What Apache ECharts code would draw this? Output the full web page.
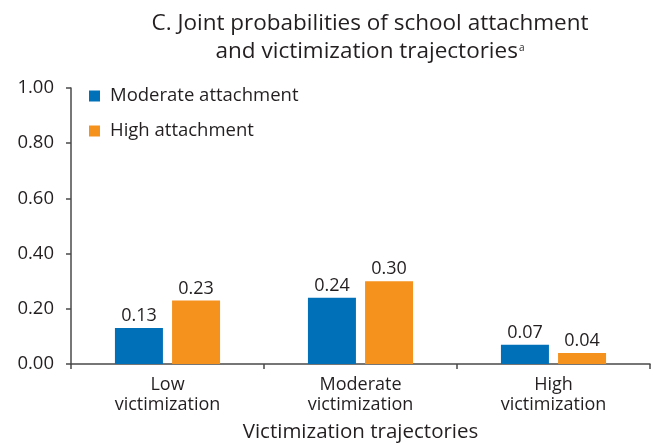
<!DOCTYPE html>
<html>
<head>
<meta charset="utf-8">
<script src="https://cdn.jsdelivr.net/npm/echarts@6/dist/echarts.min.js"></script>
<style>
  html, body { margin: 0; padding: 0; background: #fff; }
  #chart { width: 660px; height: 443px; }
</style>
</head>
<body>
<div id="chart"></div>
<script>
// 数据
const categories = ['Low\nvictimization', 'Moderate\nvictimization', 'High\nvictimization'];
const moderateAttachment = [0.13, 0.24, 0.07];
const highAttachment = [0.23, 0.30, 0.04];
const seriesNames = ['Moderate attachment', 'High attachment'];

const FONT = '"Open Sans", sans-serif';
const TEXT = '#231f20';
const AXIS = '#4a4a4a';

const chart = echarts.init(document.getElementById('chart'));

const barLabel = {
  show: true,
  position: 'top',
  distance: 3,
  color: TEXT,
  fontFamily: FONT,
  fontSize: 18,
  formatter: p => p.value.toFixed(2)
};

const option = {
  animation: false,
  color: ['#0070b9', '#f5921e'],
  textStyle: { fontFamily: FONT, color: TEXT },
  title: {
    left: 365,
    textAlign: 'center',
    top: 5,
    text: '{t|C. Joint probabilities of school attachment}\n{t|and victimization trajectories}{sup|a}',
    textStyle: {
      fontWeight: 'normal',
      rich: {
        t: { fontFamily: FONT, fontSize: 22.5, fontWeight: 'normal', color: TEXT, lineHeight: 28 },
        sup: { fontFamily: FONT, fontSize: 10, fontWeight: 'normal', color: TEXT, lineHeight: 28, verticalAlign: 'top', padding: [5, 0, 0, 1] }
      }
    }
  },
  legend: {
    orient: 'vertical',
    left: 89,
    top: 85,
    padding: 0,
    icon: 'rect',
    itemWidth: 11,
    itemHeight: 11,
    itemGap: 13,
    data: seriesNames,
    textStyle: { fontFamily: FONT, fontSize: 18.5, color: TEXT, padding: [0, 0, 0, 5], lineHeight: 22 }
  },
  grid: {
    left: 71,
    right: 10,
    top: 88,
    bottom: 79,
    containLabel: false,
    outerBoundsMode: 'none'
  },
  xAxis: {
    type: 'category',
    data: categories,
    name: 'Victimization trajectories',
    nameLocation: 'middle',
    nameGap: 58,
    nameTextStyle: { fontFamily: FONT, fontSize: 20.5, color: TEXT },
    axisLine: { lineStyle: { color: AXIS, width: 1.5 } },
    axisTick: { show: true, length: 5, lineStyle: { color: AXIS, width: 1.5 } },
    axisLabel: { fontFamily: FONT, fontSize: 18, color: TEXT, lineHeight: 20, margin: 11 }
  },
  yAxis: {
    type: 'value',
    min: 0,
    max: 1,
    interval: 0.2,
    splitLine: { show: false },
    axisLine: { show: true, lineStyle: { color: AXIS, width: 1.5 } },
    axisTick: { show: true, length: 5, lineStyle: { color: AXIS, width: 1.5 } },
    axisLabel: {
      fontFamily: FONT,
      fontSize: 18.5,
      color: TEXT,
      margin: 17,
      formatter: v => v.toFixed(2)
    }
  },
  series: [
    {
      name: seriesNames[0],
      type: 'bar',
      barWidth: 48,
      barGap: '19%',
      data: moderateAttachment,
      label: barLabel
    },
    {
      name: seriesNames[1],
      type: 'bar',
      barWidth: 48,
      barGap: '19%',
      data: highAttachment,
      label: barLabel
    }
  ]
};

chart.setOption(option);
</script>
</body>
</html>
